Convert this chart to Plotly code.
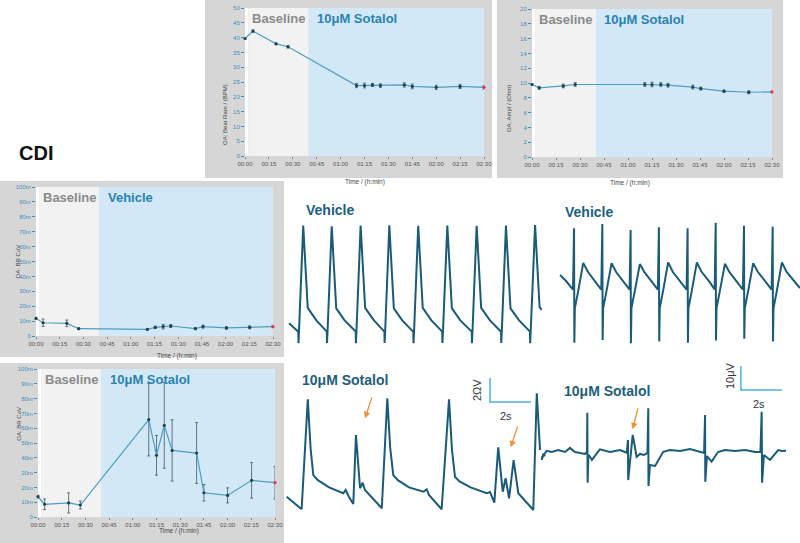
import plotly.graph_objects as go

W, H = 800, 543

# ---------------- time-course data (minutes) ----------------
tick_minutes = [0, 15, 30, 45, 60, 75, 90, 105, 120, 135, 150]
tick_labels = ["00:00", "00:15", "00:30", "00:45", "01:00", "01:15",
               "01:30", "01:45", "02:00", "02:15", "02:30"]
baseline_start = 2
treatment_start = 40
end_time = 150

# Beat rate (BPM), 10 uM Sotalol
br_time = [0, 5, 19.5, 27, 70, 75, 80, 85, 100, 105, 120, 135, 150]
br_value = [39.7, 42.2, 37.9, 36.9, 23.8, 23.8, 24.0, 23.8, 24.0, 23.5, 23.2, 23.5, 23.2]
br_err = [0.3, 0.4, 0.3, 0.4, 0.7, 0.8, 0.5, 0.6, 0.7, 0.8, 0.7, 0.7, 0.6]

# Amplitude (Ohm), 10 uM Sotalol
amp_time = [0, 4.5, 19.5, 27, 70.5, 75, 80.5, 85, 100.5, 105.5, 120, 135.5, 150]
amp_value = [9.8, 9.35, 9.6, 9.8, 9.8, 9.8, 9.8, 9.7, 9.45, 9.25, 8.9, 8.75, 8.8]
amp_err = [0.1, 0.2, 0.25, 0.25, 0.25, 0.3, 0.25, 0.25, 0.25, 0.2, 0.15, 0.2, 0.1]

# BR CoV, Vehicle
cov_veh_time = [0, 4.5, 19.5, 27, 70.5, 75.5, 80.5, 85.3, 100.9, 105.7, 120.5, 135.2, 150]
cov_veh_value = [0.0118, 0.0089, 0.0085, 0.0049, 0.0045, 0.0058, 0.0063, 0.0067,
                 0.0049, 0.0063, 0.0054, 0.0058, 0.0063]
cov_veh_err = [0.0008, 0.0025, 0.0022, 0.0005, 0.0005, 0.0008, 0.0015, 0.001,
               0.0006, 0.001, 0.0008, 0.001, 0.0008]

# BR CoV, 10 uM Sotalol
cov_sot_time = [0, 4.2, 19.4, 26.8, 70.1, 75, 79.9, 84.9, 100.4, 105, 120, 135.2, 150]
cov_sot_value = [0.0137, 0.0086, 0.0095, 0.0081, 0.0658, 0.0417, 0.0619, 0.045,
                 0.0432, 0.0164, 0.0146, 0.0248, 0.0232]
cov_sot_err = [0.0011, 0.0036, 0.0068, 0.0027, 0.0245, 0.0134, 0.029, 0.0207,
               0.0206, 0.0056, 0.0051, 0.012, 0.011]

# ---------------- example traces (time in s) ----------------
# Impedance, Vehicle (Ohm)
imp_veh_t = [0.15,
             0.60, 0.61, 0.64, 0.84, 1.06, 1.48,
             1.99, 2.00, 2.03, 2.23, 2.45, 2.86,
             3.40, 3.41, 3.44, 3.64, 3.86, 4.28,
             4.80, 4.81, 4.84, 5.04, 5.26, 5.67,
             6.21, 6.22, 6.25, 6.45, 6.67, 7.09,
             7.62, 7.63, 7.66, 7.87, 8.09, 8.50,
             9.06, 9.07, 9.10, 9.30, 9.52, 9.94,
             10.49, 10.50, 10.53, 10.73, 10.95, 11.37,
             11.90, 11.91, 11.94, 12.15, 12.37, 12.47]
imp_veh_v = [2.06,
             1.36, 0.40, 1.50, 10.20, 3.35, 2.30,
             1.36, 0.42, 1.50, 10.15, 3.30, 2.30,
             1.38, 0.40, 1.52, 10.20, 3.35, 2.32,
             1.36, 0.42, 1.50, 10.22, 3.30, 2.30,
             1.35, 0.40, 1.50, 10.18, 3.35, 2.30,
             1.36, 0.42, 1.50, 10.20, 3.32, 2.30,
             1.37, 0.40, 1.50, 10.18, 3.35, 2.32,
             1.36, 0.42, 1.50, 10.20, 3.30, 2.30,
             1.36, 0.40, 1.50, 10.25, 3.40, 3.17]

# Field potential, Vehicle (uV)
fp_veh_t = [0.20, 0.49,
            0.83, 0.88, 0.895, 0.92, 1.075, 1.33, 1.56, 1.95,
            2.21, 2.26, 2.275, 2.30, 2.455, 2.71, 2.94, 3.33,
            3.59, 3.64, 3.655, 3.68, 3.835, 4.09, 4.32, 4.71,
            4.97, 5.02, 5.035, 5.06, 5.215, 5.47, 5.70, 6.09,
            6.37, 6.42, 6.435, 6.46, 6.615, 6.87, 7.10, 7.49,
            7.74, 7.79, 7.805, 7.83, 7.985, 8.24, 8.47, 8.86,
            9.12, 9.17, 9.185, 9.21, 9.365, 9.62, 9.85, 10.24,
            10.52, 10.57, 10.585, 10.61, 10.765, 11.02, 11.25, 11.64,
            11.90]
fp_veh_v = [6.25, 3.75,
            0.2, 25.7, -22.0, -7.5, -0.8, 11.3, 7.5, 3.3,
            0.2, 27.5, -20.8, -7.5, -0.8, 11.2, 7.4, 3.3,
            0.2, 25.0, -22.2, -7.5, -0.8, 10.8, 7.3, 3.2,
            0.2, 26.1, -21.5, -7.5, -0.8, 11.5, 7.5, 3.3,
            0.2, 25.7, -22.0, -7.5, -0.8, 11.5, 7.6, 3.4,
            0.2, 28.0, -21.0, -7.5, -0.8, 10.9, 7.3, 3.2,
            0.2, 26.8, -20.3, -7.5, -0.8, 11.2, 7.5, 3.3,
            0.2, 26.4, -21.5, -7.5, -0.8, 11.5, 7.5, 3.3,
            0.8]

# Impedance, 10 uM Sotalol (Ohm)
imp_sot_t = [0.13, 0.86, 1.16, 1.30, 1.43, 1.65, 2.20, 2.89, 3.01, 3.17, 3.38, 3.51,
             3.71, 3.84, 3.95, 4.77, 5.04, 5.18, 5.33, 5.55, 6.10, 6.80, 6.96, 7.07,
             7.69, 8.05, 8.19, 8.34, 8.56, 9.10, 9.89, 10.05, 10.26, 10.45, 10.67,
             10.81, 10.98, 11.20, 11.43, 12.16, 12.33, 12.49, None, 12.57, 12.65, 12.73]
imp_sot_v = [1.53, 0.48, 9.64, 5.5, 3.33, 2.9, 2.3, 1.81, 2.08, 1.5, 0.92, 6.67,
             2.23, 2.69, 2.08, 0.56, 9.73, 5.6, 3.33, 2.9, 2.3, 1.94, 2.14, 1.67,
             0.48, 9.64, 5.5, 3.19, 2.8, 2.3, 1.81, 1.92, 1.03, 5.64, 1.94,
             3.06, 1.39, 4.58, 1.81, 0.42, 10.14, 5.42, None, 4.58, 5.1, 4.9]

# Field potential, 10 uM Sotalol (uV)
fp_sot_t = [0.18, 0.42, 0.68, 0.98, 1.32, 1.56, 1.80, 2.29, 2.39, 2.405, 2.42, 2.46,
            2.54, 2.63, 2.96, 3.02, 3.51, 4.00, 4.33, 4.39, 4.40, 4.49, 4.62, 4.71,
            4.81, 4.98, 5.17, 5.34, 5.38, 5.39, 5.46, 5.71, 5.95, 6.11, 6.44, 6.93,
            7.41, 7.90, 8.10, 8.15, 8.16, 8.24, 8.47, 8.78, 9.12, 9.61, 10.10, 10.59,
            10.85, 10.91, 10.93, 11.02, 11.32, 11.56, 11.72, 11.90, 12.10]
fp_sot_v = [-2.6, 0.5, 0.0, 0.8, 0.0, 1.7, 0.0, -0.8, 0.0, 16.4, -12.8, -1.25,
            -2.0, -3.3, 0.5, 1.1, 0.0, 0.8, -0.3, 5.0, -11.7, -2.5, 7.1, 2.9,
            -2.0, -0.8, -1.25, -0.4, 18.2, -14.2, -5.4, -5.8, -2.5, 0.1, 0.8, 0.4,
            1.25, 0.0, -0.4, 15.4, -12.4, -1.7, -4.0, 0.0, 0.8, 0.4, 0.8, 0.0,
            0.0, 16.8, -12.8, -1.25, -3.3, -0.8, 0.8, 0.4, 0.5]

# arrows (time s, value) marking arrhythmic events
imp_arrows = [(3.95, 8.06), (11.06, 5.64)]
fp_arrows = [(4.62, 9.46)]

scale_time = 2      # s
scale_imp = 2       # Ohm
scale_fp = 10       # uV

# ---------------- layout helpers ----------------
FONT = "Liberation Sans, Arial, sans-serif"
FRAME = "#d6d6d6"
BASE_FILL = "#f2f2f2"
TREAT_FILL = "#d2e8f6"
LINE_C = "#4d9dc4"
MARK_C = "#22414f"
ERR_C = "#3d5866"
YTICK_C = "#3d8fbf"
TRACE_C = "#195b79"
SCALE_C = "#45b2e2"
ARROW_C = "#f0923a"


def dx(x0, x1):
    return [x0 / W, x1 / W]


def dy(y0, y1):
    return [1 - y1 / H, 1 - y0 / H]


def px(x):
    return x / W


def py(y):
    return 1 - y / H


fig = go.Figure()
shapes = []
annotations = []
layout = {}

panels = [
    dict(frame=(205, 0, 492, 178), plot=(245, 8, 484, 156),
         t=br_time, v=br_value, e=br_err, yr=[0, 50], dt=5, fmt="",
         lab=("Baseline", "10μM Sotalol"), ytitle="OA: Beat Rate / (BPM)"),
    dict(frame=(497, 0, 783, 178), plot=(532, 9, 772, 157),
         t=amp_time, v=amp_value, e=amp_err, yr=[0, 20], dt=2, fmt="",
         lab=("Baseline", "10μM Sotalol"), ytitle="OA: Ampl / (Ohm)"),
    dict(frame=(0, 181, 284, 357), plot=(36, 187, 273, 336),
         t=cov_veh_time, v=cov_veh_value, e=cov_veh_err, yr=[0, 0.1], dt=0.01, fmt="~s",
         lab=("Baseline", "Vehicle"), ytitle="OA: BR CoV"),
    dict(frame=(0, 363, 284, 543), plot=(38, 369, 275, 517),
         t=cov_sot_time, v=cov_sot_value, e=cov_sot_err, yr=[0, 0.1], dt=0.01, fmt="~s",
         lab=("Baseline", "10μM Sotalol"), ytitle="OA: BR CoV"),
]

for i, p in enumerate(panels, start=1):
    fx0, fy0, fx1, fy1 = p["frame"]
    ax0, ay0, ax1, ay1 = p["plot"]
    xa = "x" if i == 1 else f"x{i}"
    ya = "y" if i == 1 else f"y{i}"
    shapes.append(dict(type="rect", xref="paper", yref="paper",
                       x0=px(fx0), x1=px(fx1), y0=py(fy1), y1=py(fy0),
                       fillcolor=FRAME, line_width=0, layer="below"))
    for (s0, s1, col) in [(0, baseline_start, "white"),
                          (baseline_start, treatment_start, BASE_FILL),
                          (treatment_start, end_time, TREAT_FILL)]:
        shapes.append(dict(type="rect", xref=xa, yref=f"{ya} domain",
                           x0=s0, x1=s1, y0=0, y1=1,
                           fillcolor=col, line_width=0, layer="below"))
    n = len(p["t"])
    colors = [MARK_C] * (n - 1) + ["#e5305c"]
    fig.add_trace(go.Scatter(
        x=p["t"], y=p["v"], mode="lines+markers", xaxis=xa, yaxis=ya,
        line=dict(color=LINE_C, width=1.2),
        marker=dict(color=colors, size=3.2),
        error_y=dict(type="data", array=p["e"], color=ERR_C, thickness=0.8, width=1.5),
        cliponaxis=False, showlegend=False, hoverinfo="skip"))
    key = "" if i == 1 else str(i)
    layout["xaxis" + key] = dict(
        domain=dx(ax0, ax1), anchor=ya, range=[0, end_time], automargin=False,
        tickvals=tick_minutes, ticktext=tick_labels,
        tickfont=dict(size=6, color="#555555", family=FONT),
        ticks="outside", ticklen=2, tickcolor="#888888",
        showgrid=False, zeroline=False, showline=False, fixedrange=True)
    layout["yaxis" + key] = dict(
        domain=dy(ay0, ay1), anchor=xa, range=p["yr"], dtick=p["dt"], automargin=False,
        tickformat=p["fmt"],
        tickfont=dict(size=6, color=YTICK_C, family=FONT),
        ticks="outside", ticklen=3, tickcolor=YTICK_C,
        showgrid=False, zeroline=False, showline=False, fixedrange=True)
    annotations.append(dict(text="<b>" + p["lab"][0] + "</b>", xref=xa, yref=f"{ya} domain",
                            x=baseline_start + 1, y=0.995, xanchor="left", yanchor="top",
                            showarrow=False, font=dict(size=13, color="#8a8a8a", family=FONT)))
    annotations.append(dict(text="<b>" + p["lab"][1] + "</b>", xref=xa, yref=f"{ya} domain",
                            x=treatment_start + 4, y=0.995, xanchor="left", yanchor="top",
                            showarrow=False, font=dict(size=13, color="#2a82b0", family=FONT)))
    annotations.append(dict(text=p["ytitle"], xref="paper", yref="paper",
                            x=px(fx0 + (ax0 - fx0) * 0.36), y=py((ay0 + ay1) / 2),
                            textangle=-90, showarrow=False,
                            font=dict(size=6, color="#444444", family=FONT)))
    annotations.append(dict(text="Time / (h:min)", xref="paper", yref="paper",
                            x=px((ax0 + ax1) / 2), y=py(ay1 + 19.5), showarrow=False,
                            font=dict(size=6.5, color="#444444", family=FONT)))

PX_PER_S = 20.5
PX_PER_OHM = 12.0
PX_PER_UV = 2.4

waves = [
    (5, (286, 220, 546, 348), 348, PX_PER_OHM, imp_veh_t, imp_veh_v),
    (6, (556, 218, 800, 345), 290, PX_PER_UV, fp_veh_t, fp_veh_v),
    (7, (284, 370, 548, 515), 515, PX_PER_OHM, imp_sot_t, imp_sot_v),
    (8, (538, 362, 800, 490), 452, PX_PER_UV, fp_sot_t, fp_sot_v),
]
for idx, (bx0, by0, bx1, by1), base, ppu, tt, vv in waves:
    xa, ya = f"x{idx}", f"y{idx}"
    layout[f"xaxis{idx}"] = dict(domain=dx(bx0, bx1), anchor=ya, automargin=False,
                                 range=[0, (bx1 - bx0) / PX_PER_S], visible=False, fixedrange=True)
    layout[f"yaxis{idx}"] = dict(domain=dy(by0, by1), anchor=xa, automargin=False,
                                 range=[(base - by1) / ppu, (base - by0) / ppu],
                                 visible=False, fixedrange=True)
    fig.add_trace(go.Scatter(x=tt, y=vv, mode="lines", xaxis=xa, yaxis=ya,
                             line=dict(color=TRACE_C, width=2), connectgaps=False,
                             showlegend=False, hoverinfo="skip", cliponaxis=False))

sb_imp_t0, sb_imp_v0 = 10.05, 9.42
fig.add_trace(go.Scatter(x=[sb_imp_t0, sb_imp_t0, sb_imp_t0 + scale_time],
                         y=[sb_imp_v0 + scale_imp, sb_imp_v0, sb_imp_v0],
                         mode="lines", xaxis="x7", yaxis="y7",
                         line=dict(color=SCALE_C, width=1.5), showlegend=False,
                         hoverinfo="skip", cliponaxis=False))
sb_fp_t0, sb_fp_v0 = 9.9, 25.8
fig.add_trace(go.Scatter(x=[sb_fp_t0, sb_fp_t0, sb_fp_t0 + scale_time],
                         y=[sb_fp_v0 + scale_fp, sb_fp_v0, sb_fp_v0],
                         mode="lines", xaxis="x8", yaxis="y8",
                         line=dict(color=SCALE_C, width=1.5), showlegend=False,
                         hoverinfo="skip", cliponaxis=False))

for (t, v) in imp_arrows:
    annotations.append(dict(x=t, y=v, xref="x7", yref="y7", ax=t + 0.36, ay=v + 1.85,
                            axref="x7", ayref="y7", showarrow=True, arrowhead=2,
                            arrowsize=1, arrowwidth=1.3, arrowcolor=ARROW_C, text=""))
for (t, v) in fp_arrows:
    annotations.append(dict(x=t, y=v, xref="x8", yref="y8", ax=t + 0.27, ay=v + 9.4,
                            axref="x8", ayref="y8", showarrow=True, arrowhead=2,
                            arrowsize=1, arrowwidth=1.3, arrowcolor=ARROW_C, text=""))


def txt(s, x, y, size, color, angle=0, xanchor="center", bold=False):
    annotations.append(dict(text=("<b>%s</b>" % s) if bold else s, xref="paper", yref="paper",
                            x=px(x), y=py(y), xanchor=xanchor, yanchor="middle",
                            textangle=angle, showarrow=False,
                            font=dict(size=size, color=color, family=FONT)))


txt("CDI", 17, 153, 20, "#111111", xanchor="left", bold=True)
txt("Vehicle", 304, 210, 14, "#1d5e7e", xanchor="left", bold=True)
txt("Vehicle", 563, 212, 14, "#1d5e7e", xanchor="left", bold=True)
txt("10μM Sotalol", 300, 380, 14, "#1d5e7e", xanchor="left", bold=True)
txt("10μM Sotalol", 562, 391, 14, "#1d5e7e", xanchor="left", bold=True)
txt("2ΩV", 477, 390, 11, "#333333", angle=-90)
txt("2s", 506, 416, 11, "#333333")
txt("10μV", 730, 376, 11, "#333333", angle=-90)
txt("2s", 759, 404, 11, "#333333")

fig.update_layout(
    width=W, height=H, margin=dict(l=0, r=0, t=0, b=0, pad=0, autoexpand=False),
    paper_bgcolor="white", plot_bgcolor="rgba(0,0,0,0)",
    showlegend=False, shapes=shapes, annotations=annotations,
    font=dict(family=FONT), **layout)

page_fix = (
    "document.body.style.margin='0px';"
    "document.body.style.overflow='hidden';"
)

fig.write_html("out.html", config={"displayModeBar": False, "staticPlot": True},
               post_script=page_fix)
